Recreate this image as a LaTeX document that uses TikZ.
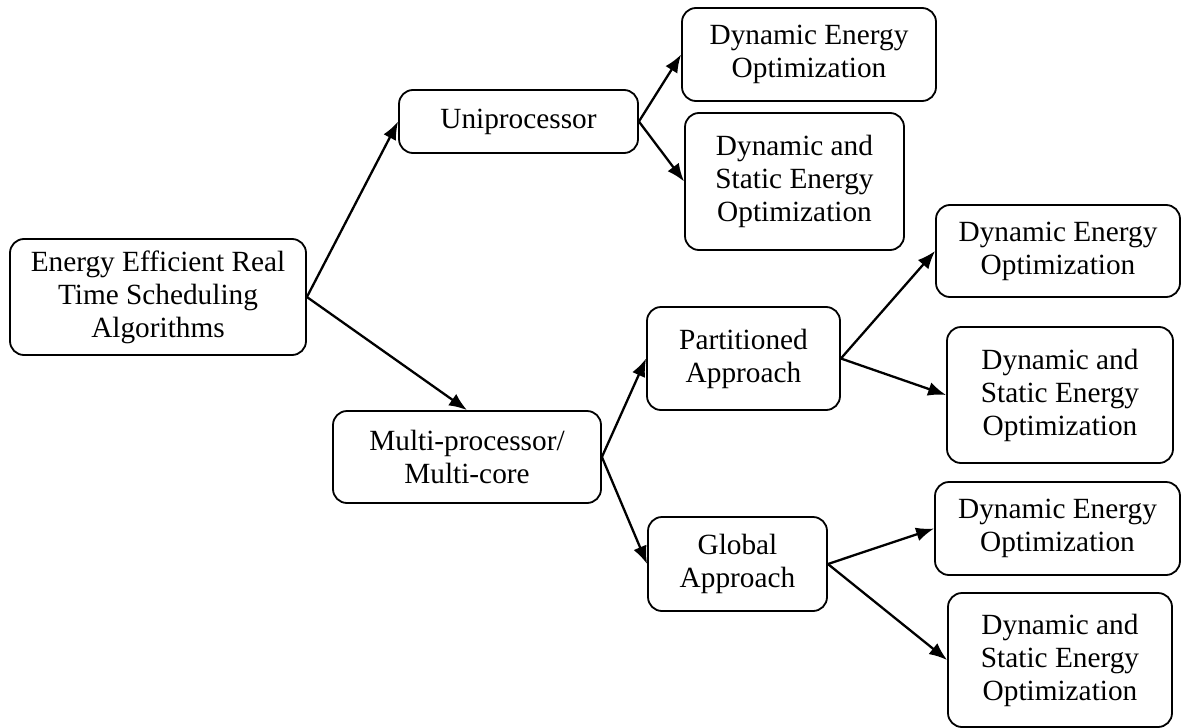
\documentclass[tikz,border=0pt]{standalone}
\usepackage{fontspec}
\setmainfont{Liberation Serif}
\usetikzlibrary{arrows.meta}
\begin{document}
\begin{tikzpicture}[x=1pt,y=-1pt,
  box/.style={draw, line width=1.8pt, rounded corners=14pt, align=center, inner sep=0pt,
    font=\fontsize{29.3}{33}\selectfont},
  conn/.style={line width=2.3pt, -{Latex[length=18pt,width=14pt]}}]
\useasboundingbox (0,0) rectangle (1181,728);
\node[box, minimum width=296pt, minimum height=116pt] (root) at (158,297) {Energy Efficient Real\\Time Scheduling\\Algorithms};
\node[box, minimum width=239pt, minimum height=63pt] (uni) at (518.5,121.5) {Uniprocessor};
\node[box, minimum width=254pt, minimum height=93pt] (udeo) at (809,54.5) {Dynamic Energy\\Optimization};
\node[box, minimum width=219pt, minimum height=137pt] (udseo) at (794.5,181.5) {Dynamic and\\Static Energy\\Optimization};
\node[box, minimum width=268pt, minimum height=92pt] (multi) at (467,457) {Multi-processor/\\Multi-core};
\node[box, minimum width=193pt, minimum height=103pt] (part) at (743.5,358.5) {Partitioned\\Approach};
\node[box, minimum width=179pt, minimum height=94pt] (glob) at (737.5,564) {Global\\Approach};
\node[box, minimum width=244pt, minimum height=92pt] (pdeo) at (1058,251) {Dynamic Energy\\Optimization};
\node[box, minimum width=226pt, minimum height=136pt] (pdseo) at (1060,395) {Dynamic and\\Static Energy\\Optimization};
\node[box, minimum width=245pt, minimum height=93pt] (gdeo) at (1057.5,528.5) {Dynamic Energy\\Optimization};
\node[box, minimum width=224pt, minimum height=134pt] (gdseo) at (1060,660) {Dynamic and\\Static Energy\\Optimization};
\draw[conn] (root.east) -- (uni.west);
\draw[conn] (root.east) -- (multi.north);
\draw[conn] (uni.east) -- (udeo.west);
\draw[conn] (uni.east) -- (udseo.west);
\draw[conn] (multi.east) -- (part.west);
\draw[conn] (multi.east) -- (glob.west);
\draw[conn] (part.east) -- (pdeo.west);
\draw[conn] (part.east) -- (pdseo.west);
\draw[conn] (glob.east) -- (gdeo.west);
\draw[conn] (glob.east) -- (gdseo.west);
\end{tikzpicture}
\end{document}
